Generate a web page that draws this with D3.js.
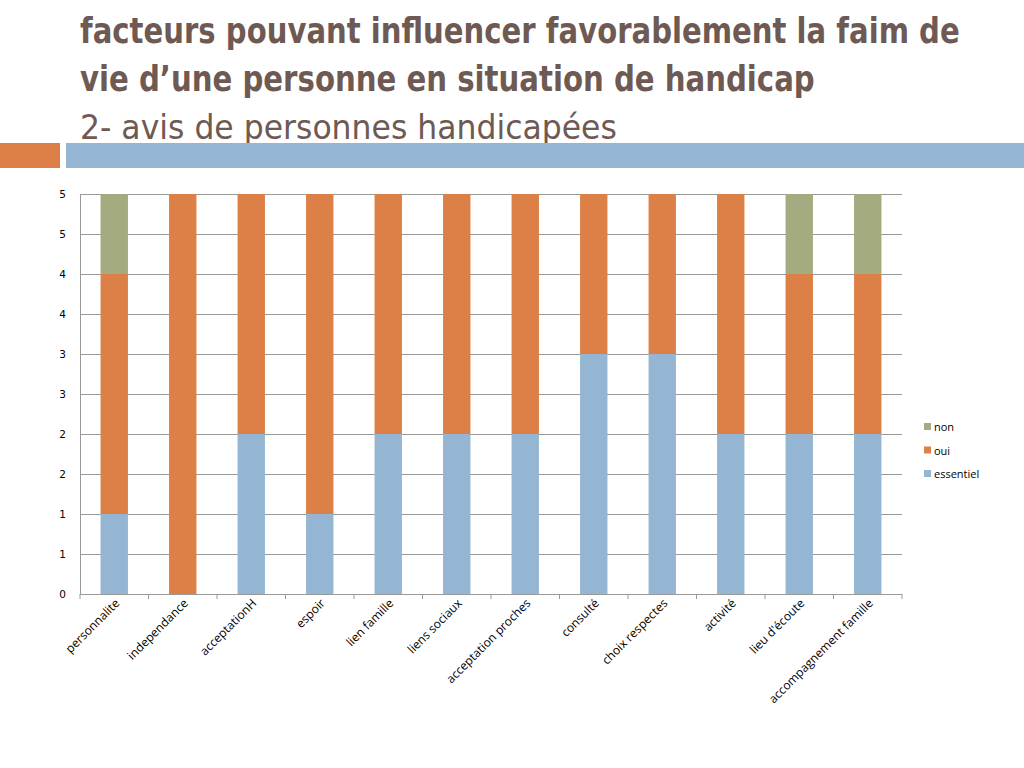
<!DOCTYPE html>
<html><head><meta charset="utf-8">
<script src="https://cdn.jsdelivr.net/npm/d3@7"></script>
<style>body{margin:0;background:#fff}svg{display:block}</style>
</head><body>
<svg id="c" width="1024" height="768"></svg>
<script>
const categories = ["personnalite","independance","acceptationH","espoir","lien famille","liens sociaux","acceptation proches","consulté","choix respectes","activité","lieu d'écoute","accompagnement famille"];
const essentiel = [1,0,2,1,2,2,2,3,3,2,2,2];
const oui       = [3,5,3,4,3,3,3,2,2,3,2,2];
const non       = [1,0,0,0,0,0,0,0,0,0,1,1];
const seriesNames = ["essentiel","oui","non"];
const colors = {essentiel:"#94b6d2", oui:"#dd8047", non:"#a5ab81"};
const yTicks = [0,0.5,1,1.5,2,2.5,3,3.5,4,4.5,5];

const svg = d3.select("#c");
const font = "'DejaVu Sans Condensed','Liberation Sans Narrow',sans-serif";
const tcol = "#6e5a53";

function fitText(t, x, y, w, size, weight){
  const g = svg.append("g");
  const el = g.append("text").attr("x",0).attr("y",0).attr("font-family",font)
    .attr("font-size",size).attr("font-weight",weight).attr("fill",tcol).text(t);
  const nat = el.node().getComputedTextLength();
  const sx = w/nat;
  g.attr("transform",`translate(${x},${y}) scale(${sx},1)`);
}
fitText("facteurs pouvant influencer favorablement la faim de",80,43,880,35,"bold");
fitText("vie d\u2019une personne en situation de handicap",80,91,735,35,"bold");
fitText("2- avis de personnes handicapées",80,139,537,34,"normal");

svg.append("rect").attr("x",0).attr("y",143).attr("width",60).attr("height",25).attr("fill","#dd8047");
svg.append("rect").attr("x",66).attr("y",143).attr("width",958).attr("height",25).attr("fill","#94b6d2");

const x = d3.scaleBand().domain(categories).range([80,902]).paddingInner(0.6).paddingOuter(0.3);
const y = d3.scaleLinear().domain([0,5]).range([594,194]);

svg.append("g").selectAll("line").data(yTicks).join("line")
  .attr("x1",80).attr("x2",902).attr("y1",d=>y(d)).attr("y2",d=>y(d))
  .attr("stroke","#999").attr("stroke-width",1).attr("shape-rendering","crispEdges");

const rows = categories.map((c,i)=>({cat:c, essentiel:essentiel[i], oui:oui[i], non:non[i]}));
const stack = d3.stack().keys(seriesNames)(rows);
svg.append("g").selectAll("g").data(stack).join("g").attr("fill",d=>colors[d.key])
  .selectAll("rect").data(d=>d).join("rect")
  .attr("x",d=>x(d.data.cat)).attr("width",x.bandwidth())
  .attr("y",d=>y(d[1])).attr("height",d=>y(d[0])-y(d[1]));

const ya = svg.append("g").attr("transform","translate(80,0)")
  .call(d3.axisLeft(y).tickValues(yTicks).tickFormat(d=>Math.round(d+1e-9)).tickSize(0).tickPadding(14));
ya.select(".domain").attr("stroke","#999");
ya.selectAll("text").attr("font-family","'DejaVu Sans',sans-serif").attr("font-size",10.5).attr("fill","#000");

const step = x.step();
const xa = svg.append("g").attr("transform","translate(0,594)");
xa.append("line").attr("x1",80).attr("x2",902).attr("stroke","#999").attr("shape-rendering","crispEdges");
xa.selectAll("line.t").data(d3.range(categories.length+1)).join("line").attr("class","t")
  .attr("x1",i=>80+i*step).attr("x2",i=>80+i*step).attr("y1",0).attr("y2",5).attr("stroke","#999");
xa.selectAll("text").data(categories).join("text")
  .attr("transform",d=>`translate(${x(d)+x.bandwidth()/2+6},${10}) rotate(-45)`)
  .attr("text-anchor","end").attr("font-family","'Open Sans',sans-serif").attr("font-size",12)
  .attr("fill","#000").text(d=>d);

const leg = svg.append("g");
["non","oui","essentiel"].forEach((k,i)=>{
  const yy = 427 + i*23.5;
  leg.append("rect").attr("x",924).attr("y",yy-4).attr("width",7).attr("height",7).attr("fill",colors[k]);
  leg.append("text").attr("x",934).attr("y",yy+4).attr("font-family","'Open Sans',sans-serif")
    .attr("font-size",11).attr("fill","#000").text(k);
});
</script>
</body></html>
